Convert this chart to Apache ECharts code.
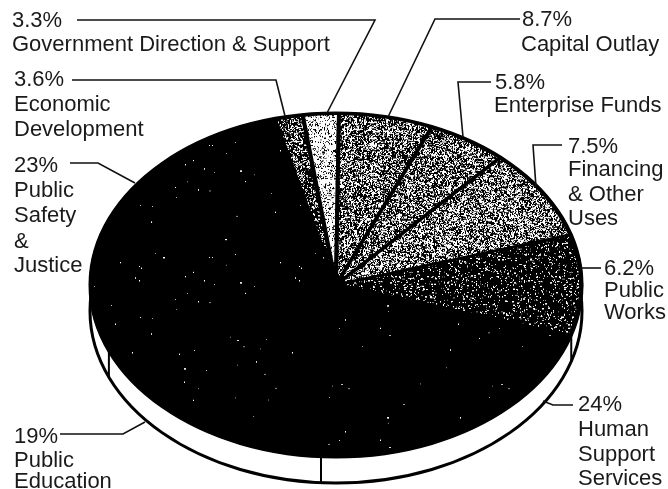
<!DOCTYPE html>
<html><head><meta charset="utf-8">
<style>html,body{margin:0;padding:0;background:#fff}#c{width:668px;height:489px}</style>
<script src="https://cdn.jsdelivr.net/npm/echarts@6/dist/echarts.min.js"></script>
</head><body><div id="c"></div>
<script>
// Printed percentages, clockwise from Economic Development.
const categories = ['Economic Development','Government Direction & Support','Capital Outlay','Enterprise Funds','Financing & Other Uses','Public Works','Human Support Services','Public Education','Public Safety & Justice'];
const printedPercent = ['3.6%','3.3%','8.7%','5.8%','7.5%','6.2%','24%','19%','23%'];
// The reference's wedges are not proportional to its printed percentages,
// so wedge sizes are read from the picture (degrees of sweep on the tilted disc).
const drawnSweep = [6.7,8.5,22.3,19,31,34,76.5,63.9,98.1];
const labelLines = [
  ['Economic','Development'],['Government Direction & Support'],['Capital Outlay'],['Enterprise Funds'],
  ['Financing','& Other','Uses'],['Public','Works'],['Human','Support','Services'],['Public','Education'],['Public','Safety','&','Justice']
];
const firstBoundaryOffset = 14.5;

// Layout (not data)
const CX=336, CY=285, RX=246, TILT=172/246, DEPTH=26;
const textLayout = [
  {x:14,ys:[80,105,130]},{x:12,ys:[21,45]},{x:522,ys:[20],x2:521,ys2:[45]},{x:495,ys:[83],x2:494,ys2:[106]},
  {x:568,ys:[147,170,195,219]},{x:604,ys:[269,291,313]},{x:578,ys:[405,430,455,479]},{x:14,ys:[437,461,482]},{x:14,ys:[166,191,216,242,266]}
];
const leaders = [
  [[72,80],[276,80],[285,116]],[[77,20],[375,20],[327,113]],[[520,19],[435,19],[388,117]],[[491,82],[458,82],[463,137]],
  [[562,145],[533,145],[536,187]],[[580,268],[601,268]],[[573,405],[553,405],[543,401]],[[60,434],[123,434],[145,422]],[[70,163],[98,163],[135,183]]
];

// Print-grain textures: deterministic hash noise, purely decorative.
function grain(whiteShare, seed){
  const n=160, cv=document.createElement('canvas'); cv.width=cv.height=n;
  const g=cv.getContext('2d'); g.fillStyle='#000'; g.fillRect(0,0,n,n); g.fillStyle='#fff';
  let s=seed;
  const next=()=>{s=(s*1664525+1013904223)>>>0; return ((s>>>8)&0xffff)/65536;};
  const count=Math.round(n*n*whiteShare/1.3);
  for(let i=0;i<count;i++){const w=next()<0.2?2:1,h=next()<0.35?2:1; g.fillRect(Math.floor(next()*n),Math.floor(next()*n),w,h);}
  return {image:cv,repeat:'repeat'};
}
const sliceFills = [grain(.3,11),grain(1.3,23),grain(.42,37),grain(.46,41),grain(.52,53),grain(.09,67),grain(.001,71),grain(.001,83),grain(.0015,97)];

let acc=0;
const sliceData = drawnSweep.map((v,i)=>{const d=[acc,acc+v,i]; acc+=v; return d;});
const fontFamily='"Liberation Sans", Arial, sans-serif';
const graphicEls=[];
leaders.forEach(pts=>graphicEls.push({type:'polyline',silent:true,z:20,shape:{points:pts},style:{stroke:'#111',lineWidth:1.6,fill:null}}));
categories.forEach((c,i)=>{
  const L=textLayout[i];
  const rows=[printedPercent[i],...labelLines[i]];
  rows.forEach((t,k)=>{
    let x=L.x,y;
    if(L.ys2&&k>0){x=L.x2;y=L.ys2[k-1];} else y=L.ys[k];
    graphicEls.push({type:'text',silent:true,z:21,x:x,y:y,style:{text:t,fill:'#1a1a1a',font:'22px '+fontFamily,verticalAlign:'middle',align:'left'}});
  });
});

function discEllipse(params,dy,fill){
  const cs=params.coordSys;
  return {type:'ellipse',shape:{cx:cs.cx,cy:cs.cy+dy,rx:cs.r,ry:cs.r*TILT},style:{fill:fill,stroke:'#000',lineWidth:3}};
}
function renderSlice(params,api){
  const cs=params.coordSys;
  const a=api.coord([1,api.value(0)]), b=api.coord([1,api.value(1)]);
  let a0=Math.atan2(a[1]-cs.cy,a[0]-cs.cx), a1=Math.atan2(b[1]-cs.cy,b[0]-cs.cx);
  if(a1<=a0) a1+=Math.PI*2;
  const children=[{
    type:'sector',originX:cs.cx,originY:cs.cy,scaleY:TILT,
    shape:{cx:cs.cx,cy:cs.cy,r:cs.r-1,r0:0,startAngle:a0,endAngle:a1,clockwise:true},
    style:{fill:sliceFills[api.value(2)],stroke:'#000',lineWidth:4}
  }];
  if(b[1]>cs.cy){
    const y=cs.cy+(b[1]-cs.cy)*TILT;
    children.push({type:'line',shape:{x1:b[0],y1:y,x2:b[0],y2:y+DEPTH},style:{stroke:'#000',lineWidth:2}});
  }
  return {type:'group',children:children};
}
const chart=echarts.init(document.getElementById('c'),null,{renderer:'canvas'});
chart.setOption({
  animation:false,backgroundColor:'#fff',
  polar:{center:[CX,CY],radius:RX},
  angleAxis:{type:'value',min:0,max:360,startAngle:90+firstBoundaryOffset,clockwise:true,show:false},
  radiusAxis:{type:'value',min:0,max:1,show:false},
  series:[
    {type:'custom',coordinateSystem:'polar',silent:true,z:1,data:[[0]],renderItem:(p)=>discEllipse(p,DEPTH,'#fff')},
    {type:'custom',coordinateSystem:'polar',silent:true,z:2,data:[[0]],renderItem:(p)=>discEllipse(p,0,'#000')},
    {type:'custom',coordinateSystem:'polar',silent:true,z:3,data:sliceData,renderItem:renderSlice}
  ],
  graphic:{elements:graphicEls}
});
</script></body></html>
